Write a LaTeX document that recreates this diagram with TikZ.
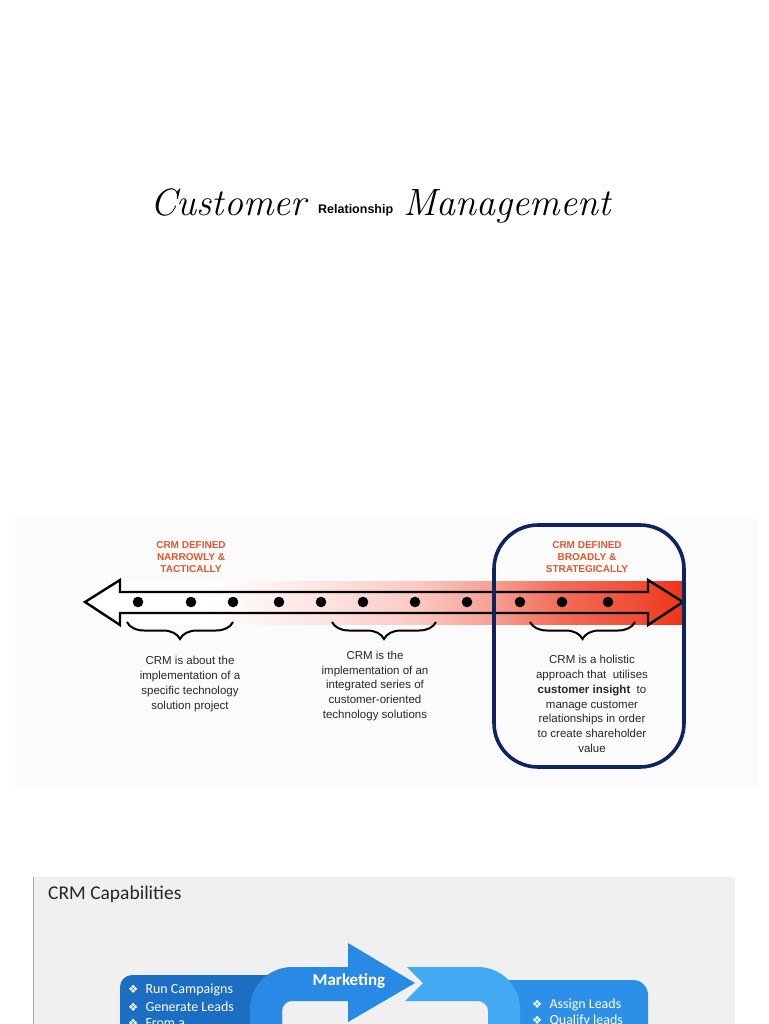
\documentclass[tikz,border=0pt]{standalone}
\usepackage{fontspec}
\newfontfamily\arial{Liberation Sans}
\newfontfamily\carlito{Carlito}
\newfontfamily\dejavu{DejaVu Sans}
\usetikzlibrary{decorations.pathreplacing}
\definecolor{bandred}{RGB}{238,52,26}
\colorlet{bandA}{bandred!14!white}
\colorlet{bandB}{bandred!27!white}
\colorlet{bandC}{bandred!47!white}
\colorlet{bandD}{bandred!72!white}
\colorlet{bandE}{bandred!88!white}
\definecolor{labelorange}{RGB}{228,86,44}
\definecolor{navy}{RGB}{14,36,98}
\definecolor{txtgray}{RGB}{40,40,40}
\definecolor{panelgray}{RGB}{240,240,240}
\definecolor{faintgray}{RGB}{251,251,251}
\definecolor{bluedark}{RGB}{28,110,194}
\definecolor{bluemid}{RGB}{40,138,228}
\definecolor{bluelight}{RGB}{66,170,243}
\definecolor{blueright}{RGB}{44,144,232}
\definecolor{captitlegray}{RGB}{38,38,38}
\pgfdeclarehorizontalshading{bandshade}{100bp}{color(0bp)=(white); color(25bp)=(white); color(33bp)=(white); color(43.5bp)=(bandA); color(51.5bp)=(bandB); color(58bp)=(bandC); color(64bp)=(bandD); color(71bp)=(bandE); color(75bp)=(bandred); color(100bp)=(bandred)}
\tikzset{
  defl/.style={font=\arial\bfseries\fontsize{10}{12.3}\selectfont, text=labelorange, align=center, inner sep=0},
  desc/.style={font=\arial\fontsize{11.5}{14.8}\selectfont, text=txtgray, align=center, inner sep=0},
  crmbrace/.style={decorate, decoration={brace, amplitude=17, mirror}, line width=2},
  dotmark/.style={fill=black},
  bullettext/.style={font=\carlito\fontsize{14}{16}\selectfont, text=white, anchor=west, inner sep=0},
  ringshape/.style={even odd rule}
}
\newcommand{\bulsym}{{\dejavu\fontsize{11.5}{12}\selectfont ❖}}
\begin{document}
\begin{tikzpicture}[x=1pt,y=-1pt]
\useasboundingbox (0,0) rectangle (768,1024);
\clip (0,0) rectangle (768,1024);
\fill[white] (0,0) rectangle (768,1024);

% ---------- title ----------
\node[anchor=base west, inner sep=0, font=\fontsize{38}{40}\selectfont\itshape] (tcust) at (150,215) {Customer};
\node[anchor=base west, inner sep=0, font=\arial\bfseries\fontsize{12.5}{14}\selectfont] (trel) at (318,214) {Relationship};
\node[anchor=base west, inner sep=0, font=\fontsize{38}{40}\selectfont\itshape] (tman) at (403,215) {Management};

% ---------- middle panel ----------
\fill[faintgray] (15,518) rectangle (757,787);
\fill[shading=bandshade] (120,581) rectangle (683,624);
\fill[white] (85,602) -- (120,580) -- (120,625) -- cycle;
\draw[line width=2.4, line join=miter] (85,602) -- (120,580) -- (120,592) -- (648,592) -- (648,580) -- (683,602) -- (648,625) -- (648,613) -- (120,613) -- (120,625) -- cycle;
\foreach \xx in {138,191,233,279,321,363,415,467,520,562,608}
  \fill[dotmark] (\xx,602) circle (5.3);

\draw[crmbrace] (127,622) -- (233,622);
\draw[crmbrace] (332,622) -- (436,622);
\draw[crmbrace] (530,622) -- (635,622);

\node[defl] (narrow) at (191,557) {CRM DEFINED\\NARROWLY \&\\TACTICALLY};
\node[defl] (broad) at (587,557) {CRM DEFINED\\BROADLY \&\\STRATEGICALLY};

\node[desc] (d1) at (190,684) {CRM is about the\\implementation of a\\specific technology\\solution project};
\node[desc] (d2) at (375,686) {CRM is the\\implementation of an\\integrated series of\\customer-oriented\\technology solutions};
\node[desc] (d3) at (592,704) {CRM is a holistic\\approach that\ \ utilises\\\textbf{customer insight}\ \ to\\manage customer\\relationships in order\\to create shareholder\\value};

\draw[navy, line width=3.6, rounded corners=44] (494,525) rectangle (684,767);

% ---------- bottom panel ----------
\fill[panelgray] (33,877) rectangle (735,1024);
\draw[gray!70, line width=1.3] (33.5,877) -- (33.5,1024);
\node[anchor=west, inner sep=0, font=\carlito\fontsize{19.5}{22}\selectfont, text=captitlegray] (captitle) at (48,894) {CRM Capabilities};

\fill[blueright] [rounded corners=15] (488,980) -- (648,980) -- (648,1070) [sharp corners] -- (488,1070) -- cycle;
\fill[bluedark] [rounded corners=12] (282,975) -- (120,975) -- (120,1070) [sharp corners] -- (282,1070) -- cycle;

\begin{scope}
  \clip (0,900) rectangle (349,1030);
  \fill[bluemid, ringshape] [rounded corners=42] (250,967) rectangle (520,1130) [rounded corners=10] (282,1001) rectangle (488,1130);
\end{scope}
\begin{scope}
  \clip (390,950) -- (423,983) -- (390,1016) -- (390,1030) -- (600,1030) -- (600,950) -- cycle;
  \fill[bluelight, ringshape] [rounded corners=42] (250,967) rectangle (520,1130) [rounded corners=10] (282,1001) rectangle (488,1130);
\end{scope}
\fill[bluemid] (348,943) -- (415,983) -- (348,1022) -- cycle;

\node[inner sep=0, font=\carlito\bfseries\fontsize{17}{19}\selectfont, text=white] (mkt) at (349,981) {Marketing};

\node[bullettext] (lb1) at (128,990) {\bulsym\hspace{7pt}Run Campaigns};
\node[bullettext] (lb2) at (128,1007) {\bulsym\hspace{7pt}Generate Leads};
\node[bullettext] (lb3) at (128,1023) {\bulsym\hspace{7pt}From a};
\node[bullettext] (rb1) at (532,1005) {\bulsym\hspace{7pt}Assign Leads};
\node[bullettext] (rb2) at (532,1021) {\bulsym\hspace{7pt}Qualify leads};
\end{tikzpicture}
\end{document}
